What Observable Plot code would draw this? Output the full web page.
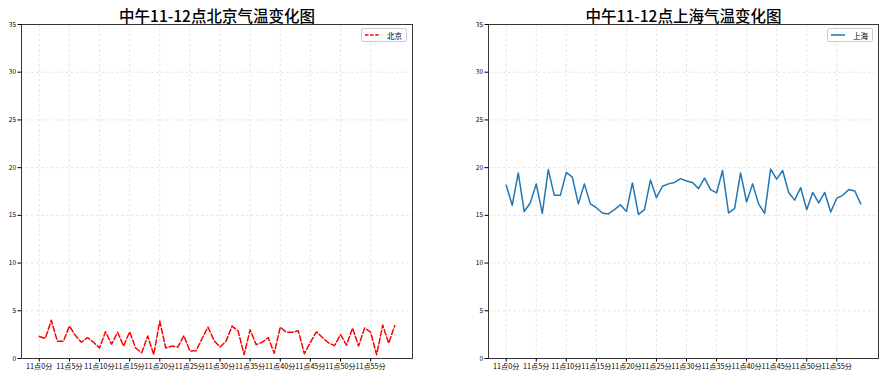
<!DOCTYPE html>
<html>
<head>
<meta charset="utf-8">
<script src="https://cdn.jsdelivr.net/npm/d3@7"></script>
<script src="https://cdn.jsdelivr.net/npm/@observablehq/plot@0.6"></script>
<style>
  body { margin: 0; background: #fff; }
  #fig { position: relative; width: 893px; height: 385px; font-family: "Noto Sans CJK SC", "DejaVu Sans", sans-serif; }
  .panel { position: absolute; top: 0; }
  .legend { position: absolute; border: 1px solid #ccc; border-radius: 2px; background: #fff; height: 12px; display: flex; align-items: center; font-size: 7.5px; padding: 0 4px 0 3px; box-sizing: content-box; }
  .legend svg { margin-right: 8px; }
</style>
</head>
<body>
<div id="fig"></div>
<script>
const minutes = d3.range(0, 60);
const beijing = [2.3,2.1,4.0,1.8,1.8,3.4,2.4,1.7,2.2,1.7,1.1,2.8,1.5,2.75,1.3,2.8,1.1,0.6,2.35,0.4,
                 3.9,1.1,1.3,1.2,2.4,0.77,0.8,2.05,3.3,1.9,1.2,1.8,3.4,2.9,0.4,3.0,1.45,1.7,2.2,0.55,
                 3.3,2.75,2.75,2.9,0.5,1.7,2.8,2.2,1.65,1.35,2.5,1.4,3.2,1.3,3.2,2.75,0.4,3.5,1.6,3.45];
const shanghai = [18.15,16.05,19.45,15.4,16.3,18.3,15.2,19.8,17.1,17.1,19.5,19.0,16.2,18.3,16.2,15.8,15.25,15.15,15.6,16.1,
                  15.4,18.4,15.1,15.6,18.7,16.85,18.05,18.3,18.45,18.85,18.6,18.45,17.8,18.9,17.7,17.35,19.7,15.25,15.7,19.45,
                  16.4,18.3,16.2,15.2,19.85,18.8,19.7,17.4,16.6,17.9,15.6,17.4,16.3,17.4,15.35,16.8,17.1,17.7,17.55,16.2];
const xTicks = [0,5,10,15,20,25,30,35,40,45,50,55];
const xTickLabels = xTicks.map(m => `11点${m}分`);
const yTicks = [0,5,10,15,20,25,30,35];
const titles = ["中午11-12点北京气温变化图", "中午11-12点上海气温变化图"];
const seriesNames = ["北京", "上海"];

const fig = document.getElementById("fig");

function panel(values, opts) {
  const data = minutes.map((m, i) => ({m, v: values[i]}));
  return Plot.plot({
    width: opts.width, height: 385,
    marginLeft: opts.ml, marginRight: opts.mr, marginTop: 24, marginBottom: 27,
    style: {fontFamily: '"Noto Sans CJK SC", "DejaVu Sans", sans-serif', background: "transparent", color: "#000", overflow: "visible"},
    x: {domain: [-2.95, 61.95]},
    y: {domain: [0, 35]},
    marks: [
      Plot.gridX(xTicks, {stroke: "#dcdcdc", strokeOpacity: 1, strokeWidth: 0.8, strokeDasharray: "2.5,2.5"}),
      Plot.gridY(yTicks, {stroke: "#dcdcdc", strokeOpacity: 1, strokeWidth: 0.8, strokeDasharray: "2.5,2.5"}),
      Plot.line(data, {x: "m", y: "v", stroke: opts.color, strokeWidth: 1.5, strokeDasharray: opts.dash}),
      Plot.frame({stroke: "#222", strokeWidth: 0.9}),
      Plot.axisX(xTicks, {tickFormat: d => xTickLabels[xTicks.indexOf(d)], tickSize: 3.5, tickPadding: 2, fontSize: 7.2, label: null}),
      Plot.axisY(yTicks, {tickSize: 3.5, tickPadding: 2, fontSize: 6.5, label: null}),
      Plot.text([opts.title], {frameAnchor: "top", lineAnchor: "bottom", dy: -3, fontSize: 15.5, fontWeight: 500, fill: "#000"})
    ]
  });
}

const left = panel(beijing, {width: 446, ml: 21, mr: 34, color: "red", dash: "5.5,2.4", title: titles[0]});
left.classList.add("panel"); left.style.left = "0px";
fig.appendChild(left);

const right = panel(shanghai, {width: 447, ml: 42, mr: 15, color: "#1f77b4", dash: null, title: titles[1]});
right.classList.add("panel"); right.style.left = "446px";
fig.appendChild(right);

function legend(name, color, dash, rightPx) {
  const d = document.createElement("div");
  d.className = "legend";
  d.style.top = "28px";
  d.style.right = rightPx + "px";
  d.innerHTML = `<svg width="14" height="4"><line x1="0" y1="2" x2="14" y2="2" stroke="${color}" stroke-width="1.5" ${dash ? `stroke-dasharray="${dash}"` : ""}/></svg><span>${name}</span>`;
  fig.appendChild(d);
}
legend(seriesNames[0], "red", "3.5,1.6", 893 - 407);
legend(seriesNames[1], "#1f77b4", null, 893 - 873);
</script>
</body>
</html>
